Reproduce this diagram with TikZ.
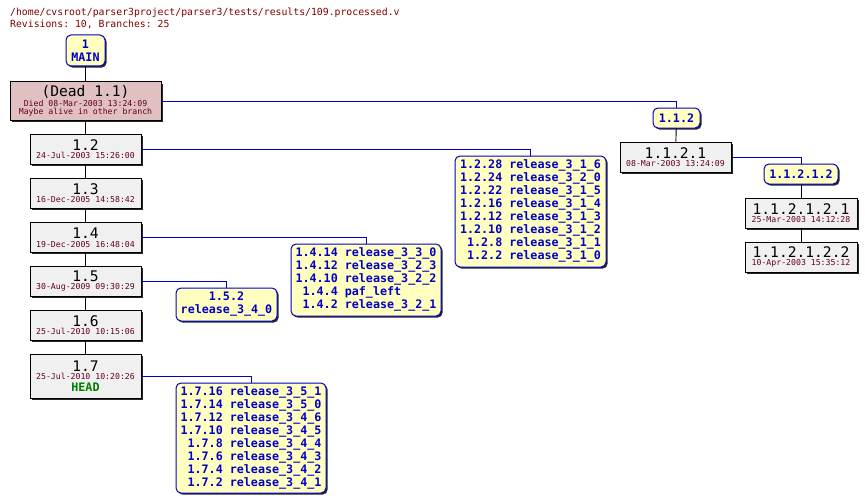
\documentclass[tikz,border=0pt]{standalone}
\usepackage{fontspec}
\setmonofont{DejaVu Sans Mono}
\usetikzlibrary{shadows}
\definecolor{hdr}{RGB}{128,0,0}
\definecolor{datec}{RGB}{100,0,32}
\definecolor{tagc}{RGB}{0,0,200}
\definecolor{headc}{RGB}{0,128,0}
\definecolor{revfill}{RGB}{240,240,240}
\definecolor{deadfill}{RGB}{224,192,192}
\definecolor{tagfill}{RGB}{255,255,192}
\newcommand\rnum[1]{{\fontsize{14.6}{15}\selectfont #1}}
\newcommand\rdate[1]{{\color{datec}\fontsize{8.2}{8.5}\selectfont #1}}
\newcommand\taglist[1]{\begin{tabular}{@{}r@{\ }l@{}}#1\end{tabular}}
\tikzset{
  shd/.style={drop shadow={shadow xshift=1.6pt,shadow yshift=-1.6pt,fill=black!85,opacity=1}},
  revbox/.style={draw=black, line width=1pt, fill=revfill, inner sep=0pt, align=center,
    font=\ttfamily\fontsize{8.2}{8.5}\selectfont, minimum width=111pt, minimum height=30pt, shd},
  tagbox/.style={draw=tagc, line width=1pt, rounded corners=5pt, fill=tagfill, inner sep=0pt,
    align=center, text=tagc, font=\ttfamily\bfseries\fontsize{11.7}{13}\selectfont, shd},
  trunk/.style={draw=black, line width=0.9pt},
  branch/.style={draw=tagc, line width=1pt},
  hdrtext/.style={anchor=base west, inner sep=0pt, text=hdr, font=\ttfamily\fontsize{9.8}{12}\selectfont}
}
\begin{document}
\begin{tikzpicture}[x=1pt,y=-1pt]
\useasboundingbox (0,0) rectangle (865,503);
\node[hdrtext] (h1) at (10,16) {/home/cvsroot/parser3project/parser3/tests/results/109.processed.v};
\node[hdrtext] (h2) at (10,28) {Revisions: 10, Branches: 25};

% trunk
\node[tagbox, minimum width=39pt, minimum height=31pt] (main) at (85.5,50.5) {1\\MAIN};
\node[revbox, fill=deadfill, minimum width=151pt, minimum height=38pt] (dead) at (85.5,101)
  {\rnum{(Dead 1.1)}\\[1pt]\rdate{Died 08-Mar-2003 13:24:09}\\\rdate{Maybe alive in other branch}};
\node[revbox] (r12) at (85.5,149) {\rnum{1.2}\\\rdate{24-Jul-2003 15:26:00}};
\node[revbox] (r13) at (85.5,193) {\rnum{1.3}\\\rdate{16-Dec-2005 14:58:42}};
\node[revbox] (r14) at (85.5,237.5) {\rnum{1.4}\\\rdate{19-Dec-2005 16:48:04}};
\node[revbox] (r15) at (85.5,281) {\rnum{1.5}\\\rdate{30-Aug-2009 09:30:29}};
\node[revbox] (r16) at (85.5,325) {\rnum{1.6}\\\rdate{25-Jul-2010 10:15:06}};
\node[revbox, minimum height=44pt] (r17) at (85.5,376)
  {\rnum{1.7}\\\rdate{25-Jul-2010 10:20:26}\\[2pt]{\color{headc}\bfseries\fontsize{11.7}{12}\selectfont HEAD}};

\draw[trunk] (main) -- (dead);
\draw[trunk] (dead) -- (r12);
\draw[trunk] (r12) -- (r13);
\draw[trunk] (r13) -- (r14);
\draw[trunk] (r14) -- (r15);
\draw[trunk] (r15) -- (r16);
\draw[trunk] (r16) -- (r17);

% tag boxes
\node[tagbox, minimum width=151pt, minimum height=111pt] (t12) at (530.5,211.5) {\taglist{
1.2.28 & release\_3\_1\_6\\
1.2.24 & release\_3\_2\_0\\
1.2.22 & release\_3\_1\_5\\
1.2.16 & release\_3\_1\_4\\
1.2.12 & release\_3\_1\_3\\
1.2.10 & release\_3\_1\_2\\
1.2.8 & release\_3\_1\_1\\
1.2.2 & release\_3\_1\_0}};
\node[tagbox, minimum width=150pt, minimum height=72pt] (t14) at (366,280) {\taglist{
1.4.14 & release\_3\_3\_0\\
1.4.12 & release\_3\_2\_3\\
1.4.10 & release\_3\_2\_2\\
1.4.4 & paf\_left\\
1.4.2 & release\_3\_2\_1}};
\node[tagbox, minimum width=101pt, minimum height=33pt] (t15) at (226.5,304.5) {1.5.2\\release\_3\_4\_0};
\node[tagbox, minimum width=150pt, minimum height=110pt] (t17) at (251,438) {\taglist{
1.7.16 & release\_3\_5\_1\\
1.7.14 & release\_3\_5\_0\\
1.7.12 & release\_3\_4\_6\\
1.7.10 & release\_3\_4\_5\\
1.7.8 & release\_3\_4\_4\\
1.7.6 & release\_3\_4\_3\\
1.7.4 & release\_3\_4\_2\\
1.7.2 & release\_3\_4\_1}};

\draw[branch] (r12.east) -| (t12.north);
\draw[branch] (r14.east) -| (t14.north);
\draw[branch] (r15.east) -| (t15.north);
\draw[branch] (r17.east) -| (t17.north);

% branch 1.1.2
\node[tagbox, minimum width=47pt, minimum height=20pt] (t112) at (676.5,118) {1.1.2};
\node[revbox] (r1121) at (675.5,157) {\rnum{1.1.2.1}\\\rdate{08-Mar-2003 13:24:09}};
\node[tagbox, minimum width=74pt, minimum height=20pt] (t11212) at (801,174) {1.1.2.1.2};
\node[revbox, minimum width=112pt] (r112121) at (801,213) {\rnum{1.1.2.1.2.1}\\\rdate{25-Mar-2003 14:12:28}};
\node[revbox, minimum width=112pt] (r112122) at (801,257) {\rnum{1.1.2.1.2.2}\\\rdate{10-Apr-2003 15:35:12}};

\draw[branch] (dead.east) -| (t112.north);
\draw[trunk] (t112) -- (r1121);
\draw[branch] (r1121.east) -| (t11212.north);
\draw[trunk] (t11212) -- (r112121);
\draw[trunk] (r112121) -- (r112122);
\end{tikzpicture}
\end{document}
